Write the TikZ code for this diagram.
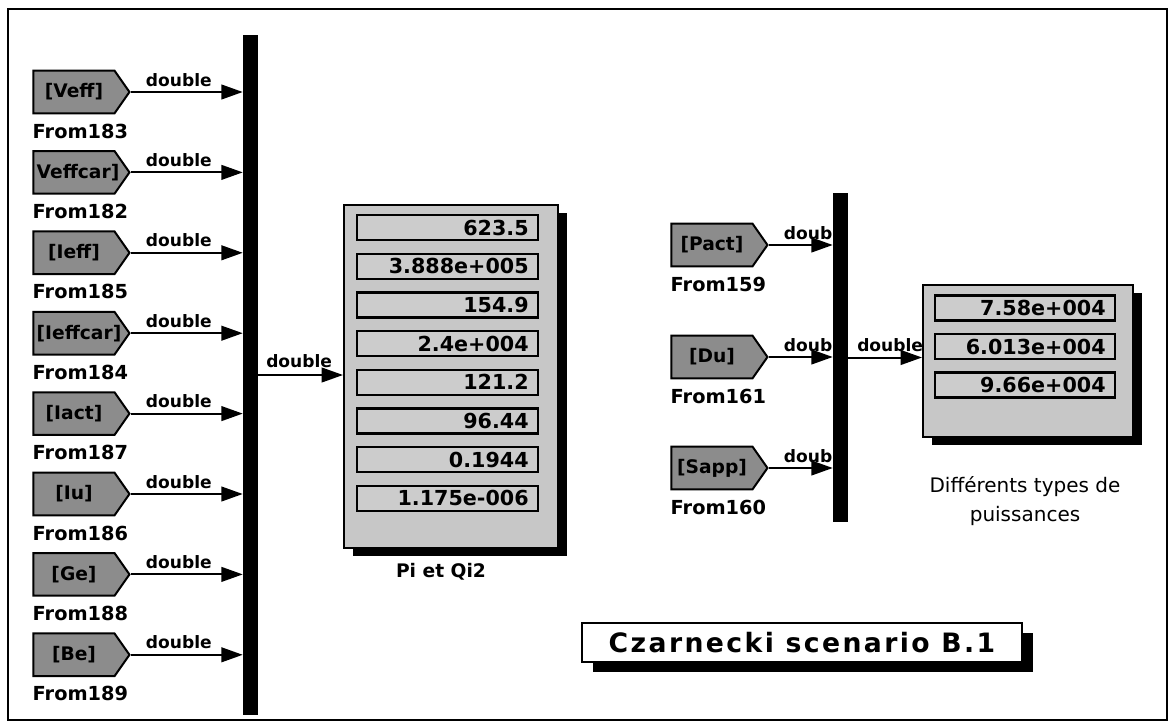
\documentclass[tikz,border=0pt]{standalone}
\usepackage{fontspec}
\setmainfont{DejaVu Sans}
\newfontfamily\spacedfont[LetterSpace=9]{DejaVu Sans}
\usetikzlibrary{arrows.meta,shapes.symbols,calc,shadows}
\begin{document}
\begin{tikzpicture}[x=0.75pt,y=-0.75pt,
  fromblk/.style={shape=signal, signal to=east, signal from=nowhere, signal pointer angle=110,
    draw=black, line width=1.5pt, fill=black!45, minimum width=72pt, minimum height=32pt,
    inner xsep=1pt, inner ysep=1pt, text width=56pt, align=center,
    font=\fontsize{14}{16}\selectfont\bfseries},
  fromlbl/.style={anchor=base west, inner sep=0pt, font=\fontsize{14.5}{17}\selectfont\bfseries},
  sig/.style={line width=1.5pt, -{Triangle[length=16pt,width=11pt]}},
  dbl/.style={anchor=base west, inner sep=0pt, font=\fontsize{12.8}{15}\selectfont\bfseries},
  bus/.style={fill=black, draw=none, inner sep=0pt},
  disp/.style={draw=black, line width=1.5pt, fill=black!22, inner sep=0pt,
    drop shadow={shadow xshift=7pt, shadow yshift=-6pt, fill=black, opacity=1}},
  val/.style={draw=black, line width=1.8pt, fill=black!20, minimum height=18.75pt,
    inner xsep=7pt, inner ysep=0pt, align=right, font=\fontsize{15.5}{17}\selectfont\bfseries},
  captxt/.style={inner sep=0pt, font=\fontsize{15}{22}\selectfont}
]
\useasboundingbox (0,0) rectangle (1174,724);
\fill[white] (0,0) rectangle (1174,724);
\draw[line width=2pt] (8,9) rectangle (1167,720);

% left bus
\node[bus, minimum width=11.25pt, minimum height=510pt] (bus1) at (250.5,375) {};

\foreach \t/\n [count=\i from 0] in {{[Veff]}/183,{Veffcar]}/182,{[Ieff]}/185,{[Ieffcar]}/184,{[Iact]}/187,{[Iu]}/186,{[Ge]}/188,{[Be]}/189}{
  \node[fromblk] (f\i) at (74,{92+80.4*\i}) {\t};
  \node[fromlbl] (l\i) at ($(f\i.west)+(0,46)$) {From\n};
  \draw[sig] (f\i.east) -- (f\i.east -| bus1.west);
  \node[dbl] (d\i) at ($(f\i.east)+(15,-6)$) {double};
}

% display 1
\node[disp, minimum width=160.5pt, minimum height=257.25pt] (disp1) at (451,376.5) {};
\foreach \v [count=\i from 0] in {623.5,3.888e+005,154.9,2.4e+004,121.2,96.44,0.1944,1.175e-006}{
  \node[val, text width=121.75pt] (v\i) at (447.5,{227.5+38.7*\i}) {\v};
}
\draw[sig] (bus1.east |- 0,375) coordinate (o1) -- (o1 -| disp1.west);
\node[dbl] (dout1) at (266,367) {double};
\node[font=\fontsize{14}{16}\selectfont\bfseries, inner sep=0pt] (c1) at (441,572) {Pi et Qi2};

% right bus
\node[bus, minimum width=11.25pt, minimum height=246.75pt] (bus2) at (840.5,357.5) {};
\foreach \t/\n/\y [count=\i from 0] in {{[Pact]}/159/245,{[Du]}/161/357,{[Sapp]}/160/468}{
  \node[fromblk] (g\i) at (712,\y) {\t};
  \node[fromlbl] (m\i) at ($(g\i.west)+(0,46)$) {From\n};
  \draw[sig] (g\i.east) -- (g\i.east -| bus2.west);
  \node[dbl] (e\i) at ($(g\i.east)+(15,-6)$) {doub};
}

% display 2
\node[disp, minimum width=157.5pt, minimum height=114pt] (disp2) at (1028,361) {};
\foreach \v [count=\i from 0] in {7.58e+004,6.013e+004,9.66e+004}{
  \node[val, text width=121pt] (w\i) at (1025,{308+38.5*\i}) {\v};
}
\draw[sig] (bus2.east) -- (bus2.east -| disp2.west);
\node[dbl] (dout2) at (857,351) {double};
\node[captxt, align=center] (c2) at (1025,501) {Différents types de\\puissances};

% title
\node[draw=black, line width=1.5pt, fill=white, minimum width=330pt, minimum height=29.25pt,
  inner sep=0pt, font=\spacedfont\fontsize{20}{22}\selectfont\bfseries,
  drop shadow={shadow xshift=8pt, shadow yshift=-7.5pt, fill=black, opacity=1}] (title) at (802,642.5) {Czarnecki scenario B.1};
\end{tikzpicture}
\end{document}
